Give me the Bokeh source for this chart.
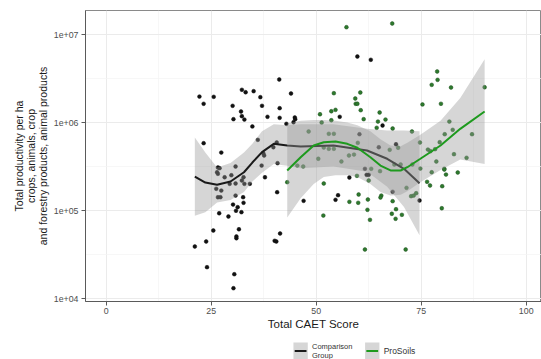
import numpy as np
from bokeh.plotting import figure
from bokeh.layouts import column
from bokeh.models import Range1d, FixedTicker, CustomJSTickFormatter
from bokeh.core.properties import value
from bokeh.embed import file_html
from bokeh.resources import INLINE

# ---------------- data (x = Total CAET Score, y = log10 of productivity) -------------
comp_x = [22.2, 23.2, 25.6, 41.2, 32.3, 33.2, 35.1, 36.7, 44.0, 30.1, 37.1, 32.1, 32.3,
          30.3, 32.9, 38.4, 41.3, 41.3, 44.9, 45.0, 42.9, 44.6, 34.8, 23.2, 27.4, 36.1,
          37.4, 37.6, 40.6, 26.6, 27.0, 30.8, 37.0, 40.8, 39.8, 26.4, 26.6, 28.2, 29.8,
          32.7, 32.3, 29.4, 30.8, 32.9, 34.2, 37.8, 26.2, 27.4, 26.6, 27.2, 30.8, 32.6,
          30.2, 32.7, 31.3, 30.9, 32.2, 26.9, 29.1, 40.7, 31.6, 25.5, 31.0, 31.0, 41.4,
          40.1, 40.5, 23.8, 21.1, 24.0, 30.5, 30.3, 59.8, 63.0, 55.6, 65.8, 60.3, 69.0,
          64.9, 61.6, 62.0, 62.5, 57.9, 68.2, 55.2, 54.6, 47.0, 74.6]
comp_log = [6.295, 6.213, 6.292, 6.489, 6.372, 6.344, 6.356, 6.288, 6.330, 6.190, 6.190,
            6.125, 6.072, 6.038, 6.034, 6.065, 6.163, 6.053, 6.057, 6.038, 5.985, 6.003,
            5.955, 5.765, 5.659, 5.803, 5.651, 5.625, 5.773, 5.489, 5.481, 5.500, 5.511,
            5.538, 5.719, 5.435, 5.417, 5.378, 5.401, 5.378, 5.341, 5.303, 5.307, 5.303,
            5.303, 5.378, 5.247, 5.227, 5.151, 5.151, 5.170, 5.151, 5.068, 5.088, 5.038,
            4.997, 4.981, 4.969, 4.932, 5.208, 4.787, 4.773, 4.705, 4.685, 4.739, 4.656,
            4.648, 4.648, 4.591, 4.356, 4.276, 4.117, 6.750, 6.713, 6.065, 5.966, 5.867,
            5.753, 5.719, 5.474, 5.406, 5.406, 5.375, 5.213, 5.174, 5.122, 5.110, 5.114]

pro_x = [57.2, 68.1, 78.8, 78.9, 77.5, 82.1, 90.1, 54.2, 60.5, 59.3, 59.4, 59.8, 75.3,
         79.7, 60.6, 54.6, 53.6, 50.9, 65.1, 53.6, 51.3, 61.3, 66.5, 64.7, 64.4, 68.2,
         81.7, 72.8, 48.2, 53.0, 54.2, 80.6, 82.5, 87.1, 67.5, 69.5, 74.7, 76.6, 77.2,
         78.3, 79.4, 51.8, 53.0, 54.2, 50.5, 57.8, 59.0, 56.0, 59.9, 82.8, 85.8, 46.9,
         63.1, 68.6, 70.1, 72.9, 78.6, 80.5, 74.8, 65.2, 59.7, 62.5, 51.8, 71.5, 72.6,
         73.2, 73.8, 65.5, 65.3, 60.1, 57.9, 60.0, 62.3, 68.2, 62.2, 69.0, 68.0, 70.4,
         68.9, 62.8, 51.7, 77.5, 80.5, 80.9, 83.7, 76.4, 77.1, 80.0, 79.9, 61.6, 71.3,
         43.1, 45.5]
pro_log = [7.083, 7.125, 6.580, 6.485, 6.428, 6.398, 6.401, 6.333, 6.341, 6.273, 6.213,
           6.213, 6.205, 6.213, 6.140, 6.144, 6.128, 6.094, 6.114, 6.026, 6.000, 6.038,
           6.034, 6.011, 5.940, 5.932, 6.011, 5.898, 5.898, 5.872, 5.872, 5.867, 5.917,
           5.867, 5.690, 5.713, 5.773, 5.693, 5.674, 5.697, 5.776, 5.716, 5.701, 5.701,
           5.588, 5.625, 5.636, 5.557, 5.769, 5.640, 5.599, 5.500, 5.474, 5.523, 5.523,
           5.523, 5.557, 5.474, 5.477, 5.447, 5.394, 5.341, 5.307, 5.258, 5.163, 5.170,
           5.197, 5.170, 5.148, 5.182, 5.099, 5.088, 5.125, 5.106, 5.008, 5.015, 4.963,
           4.951, 4.906, 4.894, 4.943, 5.435, 5.466, 5.409, 5.432, 5.326, 5.284, 5.276,
           5.026, 4.557, 4.557, 5.322, 5.511]

# smoothed fits with confidence band
comp_fit_x = [21.1, 23.6, 26.4, 29.6, 32.8, 34.8, 37.1, 39.9, 43.1, 46.3, 54.1, 62.1,
              66.9, 70.9, 74.6]
comp_fit = [5.386, 5.318, 5.292, 5.330, 5.435, 5.545, 5.663, 5.758, 5.739, 5.727, 5.739,
            5.682, 5.588, 5.474, 5.310]
comp_hi = [5.83, 5.66, 5.49, 5.54, 5.66, 5.76, 5.90, 5.98, 5.97, 5.98, 5.98, 5.93, 5.91,
           5.91, 5.90]
comp_lo = [4.94, 4.98, 5.09, 5.12, 5.21, 5.33, 5.43, 5.53, 5.51, 5.48, 5.50, 5.44, 5.27,
           5.04, 4.72]

pro_fit_x = [43.1, 46.3, 49.4, 51.8, 54.6, 57.4, 59.8, 62.9, 65.3, 67.7, 70.1, 71.7, 74.8,
             79.6, 84.3, 90.1]
pro_fit = [5.455, 5.606, 5.739, 5.776, 5.784, 5.758, 5.713, 5.606, 5.511, 5.455, 5.455,
           5.492, 5.588, 5.739, 5.928, 6.125]
pro_hi = [5.99, 6.02, 6.03, 6.03, 6.02, 6.00, 5.97, 5.90, 5.81, 5.74, 5.73, 5.77, 5.86,
          6.02, 6.28, 6.72]
pro_lo = [4.92, 5.14, 5.30, 5.38, 5.40, 5.40, 5.38, 5.30, 5.21, 5.17, 5.18, 5.22, 5.32,
          5.46, 5.58, 5.53]

x_ticks = [0, 25, 50, 75, 100]
x_minor = [12.5, 37.5, 62.5, 87.5]
y_ticks = [1e4, 1e5, 1e6, 1e7]
y_minor = [10 ** 4.5, 10 ** 5.5, 10 ** 6.5]
y_tick_labels = ["1e+04", "1e+05", "1e+06", "1e+07"]
legend_labels = ["Comparison\nGroup", "ProSoils"]
legend_line_colors = ["#1a1a1a", "#1e9a1e"]

def lin(v):
    return 10 ** np.array(v)

# ---------------- main figure ----------------
FONT = "Liberation Sans"
W = 541
p = figure(width=W, height=335, output_backend="svg", toolbar_location=None,
           y_axis_type="log",
           x_range=Range1d(-4.93, 103.64), y_range=Range1d(10 ** 3.966, 10 ** 7.273),
           min_border_left=85, min_border_right=0, min_border_top=10, min_border_bottom=34)
p.background_fill_color = "white"
p.border_fill_color = "white"
p.outline_line_color = "#8a8a8a"
p.outline_line_width = 1

p.xaxis.ticker = FixedTicker(ticks=x_ticks, minor_ticks=x_minor)
p.yaxis.ticker = FixedTicker(ticks=y_ticks, minor_ticks=y_minor)
p.yaxis.formatter = CustomJSTickFormatter(args=dict(vals=y_ticks, labs=y_tick_labels), code="""
    for (let i = 0; i < vals.length; i++) { if (Math.abs(Math.log10(tick) - Math.log10(vals[i])) < 1e-6) return labs[i]; }
    return '';
""")

for ax in (p.xaxis, p.yaxis):
    ax.axis_line_color = "#5a5a5a"
    ax.major_tick_line_color = "#5a5a5a"
    ax.major_tick_out = 4
    ax.major_tick_in = 0
    ax.minor_tick_line_color = None
    ax.major_label_text_font = FONT
    ax.major_label_text_font_size = "8.8px"
    ax.major_label_text_color = "#4d4d4d"
    ax.axis_label_text_font = FONT
    ax.axis_label_text_font_style = "normal"
    ax.axis_label_text_color = "#1a1a1a"

p.xaxis.major_label_standoff = 2
p.xaxis.axis_label = "Total CAET Score"
p.xaxis.axis_label_text_font_size = "11.5px"
p.xaxis.axis_label_standoff = 1
p.yaxis.major_label_standoff = 3
p.yaxis.axis_label = "Total productivity per ha\ncrops, animals, crop\nand forestry products, animal products"
p.yaxis.axis_label_text_font_size = "10.5px"
p.yaxis.axis_label_text_line_height = 1.0
p.yaxis.axis_label_standoff = 2

for g in (p.xgrid, p.ygrid):
    g.grid_line_color = "#ebebeb"
    g.grid_line_width = 1
    g.minor_grid_line_color = "#f3f3f3"
    g.minor_grid_line_width = 0.7

# points
p.scatter(comp_x, lin(comp_log), size=3.8, fill_color="#111111", line_color="#111111", line_width=0.5)
p.scatter(pro_x, lin(pro_log), size=3.8, fill_color="#2d7a2d", line_color="#1f4f1f", line_width=0.5)

# smooths with confidence bands
p.varea(x=comp_fit_x, y1=lin(comp_lo), y2=lin(comp_hi), fill_color="#999999", fill_alpha=0.4)
p.line(comp_fit_x, lin(comp_fit), line_color=legend_line_colors[0], line_width=2)
p.varea(x=pro_fit_x, y1=lin(pro_lo), y2=lin(pro_hi), fill_color="#999999", fill_alpha=0.4)
p.line(pro_fit_x, lin(pro_fit), line_color=legend_line_colors[1], line_width=2)

# ---------------- legend strip (separate small figure, pixel coordinates) ----------------
LH = 24
leg = figure(width=W, height=LH, output_backend="svg", toolbar_location=None,
             x_range=Range1d(0, W), y_range=Range1d(0, LH),
             x_axis_location=None, y_axis_location=None, min_border=0)
leg.grid.visible = False
leg.outline_line_color = None
leg.background_fill_color = "white"
leg.border_fill_color = "white"

key_left = [246.7, 331.7]
key_size = 17
leg.quad(left=key_left, right=[k + key_size for k in key_left], bottom=[0] * 2,
         top=[key_size] * 2, fill_color="#999999", fill_alpha=0.4, line_color=None)
ymid = key_size / 2
leg.segment(x0=[k + 1.5 for k in key_left], x1=[k + key_size - 1.5 for k in key_left],
            y0=[ymid] * 2, y1=[ymid] * 2, line_color=legend_line_colors, line_width=2)
leg.text(x=[key_left[0] + key_size + 5], y=[ymid], text=[legend_labels[0]],
         text_font=value(FONT), text_font_size="7.5px", text_color="#333333",
         text_baseline="middle", text_align="left", text_line_height=1.05)
leg.text(x=[key_left[1] + key_size + 5], y=[ymid], text=[legend_labels[1]],
         text_font=value(FONT), text_font_size="8.5px", text_color="#333333",
         text_baseline="middle", text_align="left")

open("out.html", "w").write(file_html(column(p, leg, spacing=0), INLINE))
